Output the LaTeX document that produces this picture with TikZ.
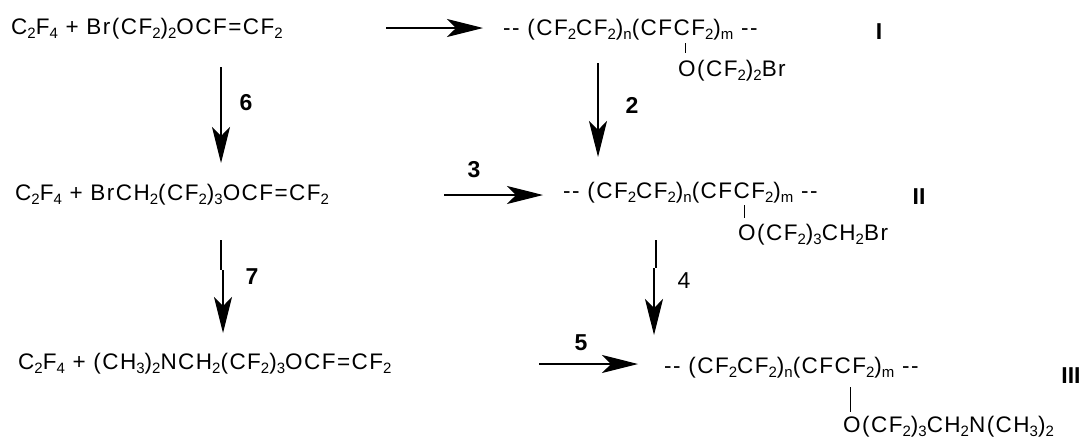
\documentclass[tikz,border=0pt]{standalone}
\usepackage{fontspec}
\setmainfont[LetterSpace=6.5]{Liberation Sans}
\newfontfamily\labelfont[LetterSpace=0]{Liberation Sans}
\usetikzlibrary{arrows.meta}
\newcommand{\sbs}[1]{\raisebox{-4pt}{\fontsize{15}{15}\selectfont #1}}
\tikzset{
 x=1pt,y=-1pt,
 chem/.style={inner sep=0pt,anchor=base west,font=\fontsize{22.5}{24}\selectfont,text=black},
 num/.style={inner sep=0pt,anchor=base,font=\fontsize{23}{24}\selectfont\labelfont\bfseries},
 plainnum/.style={inner sep=0pt,anchor=base,font=\fontsize{23}{24}\selectfont\labelfont},
 rxn/.style={draw=black,line width=1.1pt,-{Stealth[length=36pt,width=18pt,inset=9pt]}},
 plainline/.style={draw=black,line width=1.1pt},
 bondline/.style={draw=black,line width=1pt},
}
\begin{document}
\begin{tikzpicture}
\useasboundingbox (0,0) rectangle (1081,437);
\fill[white] (0,0) rectangle (1081,437);
\node[chem] (r1) at (11,34) {C\sbs{2}F\sbs{4} + Br(CF\sbs{2})\sbs{2}OCF=CF\sbs{2}};
\node[chem] (r2) at (15,200) {C\sbs{2}F\sbs{4} + BrCH\sbs{2}(CF\sbs{2})\sbs{3}OCF=CF\sbs{2}};
\node[chem] (r3) at (18,369) {C\sbs{2}F\sbs{4} + (CH\sbs{3})\sbs{2}NCH\sbs{2}(CF\sbs{2})\sbs{3}OCF=CF\sbs{2}};
\node[chem] (p1) at (503,35) {-{}- (CF\sbs{2}CF\sbs{2})\sbs{n}(CFCF\sbs{2})\sbs{m} -{}-};
\node[chem] (s1) at (678,76) {O(CF\sbs{2})\sbs{2}Br};
\node[chem] (p2) at (563,198) {-{}- (CF\sbs{2}CF\sbs{2})\sbs{n}(CFCF\sbs{2})\sbs{m} -{}-};
\node[chem] (s2) at (738,240) {O(CF\sbs{2})\sbs{3}CH\sbs{2}Br};
\node[chem] (p3) at (664,373) {-{}- (CF\sbs{2}CF\sbs{2})\sbs{n}(CFCF\sbs{2})\sbs{m} -{}-};
\node[chem] (s3) at (843,432) {O(CF\sbs{2})\sbs{3}CH\sbs{2}N(CH\sbs{3})\sbs{2}};
\node[num] (lI) at (879,39) {I};
\node[num] (lII) at (919,204) {II};
\node[num] (lIII) at (1071,383) {III};
\coordinate (a1s) at (386,28); \coordinate (a1e) at (483,28);
\coordinate (a2s) at (598,63); \coordinate (a2e) at (598,157);
\coordinate (a3s) at (444,195); \coordinate (a3e) at (543,195);
\coordinate (a4s) at (656,240); \coordinate (a4j) at (656,268); \coordinate (a4k) at (654,268); \coordinate (a4e) at (654,335);
\coordinate (a5s) at (539,364); \coordinate (a5e) at (638,364);
\coordinate (a6s) at (221,67); \coordinate (a6e) at (221,163);
\coordinate (a7s) at (221,240); \coordinate (a7j) at (221,270); \coordinate (a7k) at (223,270); \coordinate (a7e) at (223,333);
\draw[rxn] (a1s)--(a1e);
\draw[rxn] (a2s)--(a2e);
\draw[rxn] (a3s)--(a3e);
\draw[plainline] (a4s)--(a4j);
\draw[rxn] (a4k)--(a4e);
\draw[rxn] (a5s)--(a5e);
\draw[rxn] (a6s)--(a6e);
\draw[plainline] (a7s)--(a7j);
\draw[rxn] (a7k)--(a7e);
\node[num] (n6) at (246,110) {6};
\node[num] (n7) at (252,284) {7};
\node[num] (n2) at (632,113) {2};
\node[num] (n3) at (474,177) {3};
\node[plainnum] (n4) at (684,288) {4};
\node[num] (n5) at (581,350) {5};
\coordinate (b1a) at (685,43); \coordinate (b1b) at (685,53);
\coordinate (b2a) at (744,205); \coordinate (b2b) at (744,218);
\coordinate (b3a) at (850,387); \coordinate (b3b) at (850,412);
\draw[bondline] (b1a)--(b1b);
\draw[bondline] (b2a)--(b2b);
\draw[bondline] (b3a)--(b3b);
\end{tikzpicture}
\end{document}
